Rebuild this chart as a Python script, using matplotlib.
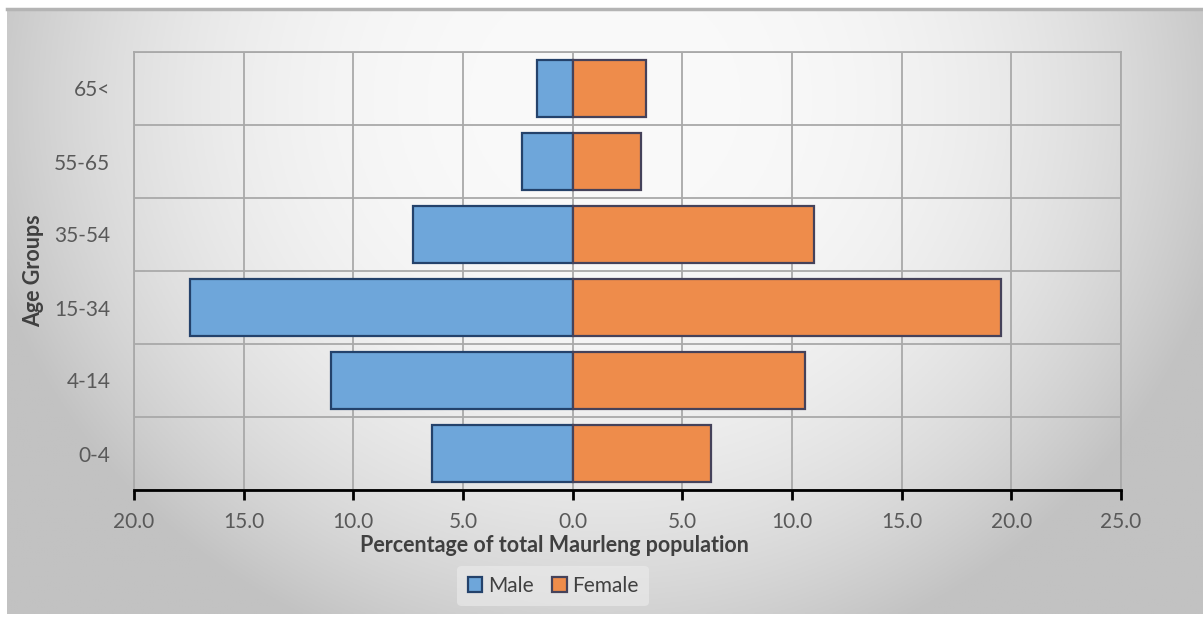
import numpy as np
import matplotlib
matplotlib.use("Agg")
import matplotlib.pyplot as plt
from matplotlib.patches import Patch
from matplotlib.ticker import FixedLocator, FuncFormatter

plt.rcParams['font.family'] = ['Lato', 'DejaVu Sans']

# Age groups, bottom to top
age_groups = ["0-4", "4-14", "15-34", "35-54", "55-65", "65<"]
male_pct = [6.41, 11.04, 17.46, 7.27, 2.32, 1.64]
female_pct = [6.32, 10.61, 19.52, 11.02, 3.12, 3.34]

W, H = 1203, 618
fig = plt.figure(figsize=(W / 100, H / 100), dpi=100)
fig.patch.set_facecolor("white")

# Grey radial backdrop behind the whole chart box
bg = fig.add_axes([7 / W, 4 / H, (W - 7) / W, (H - 12) / H], zorder=-5)
gx, gy = np.meshgrid(np.linspace(0, 1, 400), np.linspace(0, 1, 300))
r = np.sqrt(((gx - 0.5) / 0.55) ** 2 + ((gy - 0.15) / 1.0) ** 2)
shade = np.clip(250 - 60 * r ** 2.6, 194, 250) / 255.0
bg.imshow(np.dstack([shade, shade, shade]), aspect="auto", extent=[0, 1, 1, 0])
bg.set_xlim(0, 1)
bg.set_ylim(1, 0)
bg.axis("off")
bg.plot([0, 1], [0.998, 0.998], color="#b4b4b4", lw=2.5, transform=bg.transAxes, clip_on=False)

ax = fig.add_axes([134 / W, 1 - 490 / H, 987 / W, 438 / H])
ax.patch.set_alpha(0)

y = np.arange(len(age_groups))
ax.barh(y, [-v for v in male_pct], height=0.78, color="#6ea6da",
        edgecolor="#24426b", linewidth=1.6, label="Male", zorder=3)
ax.barh(y, female_pct, height=0.78, color="#ee8c4b",
        edgecolor="#45425a", linewidth=1.6, label="Female", zorder=3)

ax.set_xlim(-20, 25)
ax.set_ylim(-0.5, len(age_groups) - 0.5)

ax.xaxis.set_major_locator(FixedLocator(np.arange(-20, 26, 5)))
ax.xaxis.set_major_formatter(FuncFormatter(lambda v, p: f"{abs(v):.1f}"))
ax.set_yticks(y)
ax.set_yticklabels(age_groups)
ax.yaxis.set_minor_locator(FixedLocator(np.arange(-0.5, len(age_groups), 1.0)))

grid_col = "#a9a9a9"
ax.grid(True, axis="x", which="major", color=grid_col, lw=1.3, zorder=1)
ax.grid(True, axis="y", which="minor", color=grid_col, lw=1.3, zorder=1)

for side in ("top", "right", "left"):
    ax.spines[side].set_color(grid_col)
    ax.spines[side].set_linewidth(1.3)
ax.spines["bottom"].set_color("black")
ax.spines["bottom"].set_linewidth(2.0)
ax.spines["bottom"].set_zorder(4)

ax.tick_params(axis="x", direction="out", length=7, width=2, color="black",
               labelsize=15, labelcolor="#595959", pad=9)
ax.tick_params(axis="y", which="both", length=0, labelsize=15,
               labelcolor="#595959", pad=17)

fig.text(554 / W, 1 - 546 / H, "Percentage of total Maurleng population",
         ha="center", va="center", fontsize=15.5, fontweight="bold", color="#404040")
fig.text(34 / W, 1 - 271 / H, "Age Groups", ha="center", va="center",
         rotation=90, fontsize=15.5, fontweight="bold", color="#404040")

handles = [Patch(facecolor="#6ea6da", edgecolor="#24426b", linewidth=1.6, label="Male"),
           Patch(facecolor="#ee8c4b", edgecolor="#45425a", linewidth=1.6, label="Female")]
leg = fig.legend(handles=handles, loc="center", bbox_to_anchor=(553 / W, 1 - 586 / H),
                 ncol=2, frameon=True, fontsize=15, handlelength=0.7, handleheight=0.7,
                 handletextpad=0.25, columnspacing=0.9, borderpad=0.5,
                 borderaxespad=0)
leg.get_frame().set_facecolor("#ececec")
leg.get_frame().set_edgecolor("none")
leg.get_frame().set_alpha(0.6)
for t in leg.get_texts():
    t.set_color("#404040")

fig.savefig("out.png", dpi=100)
